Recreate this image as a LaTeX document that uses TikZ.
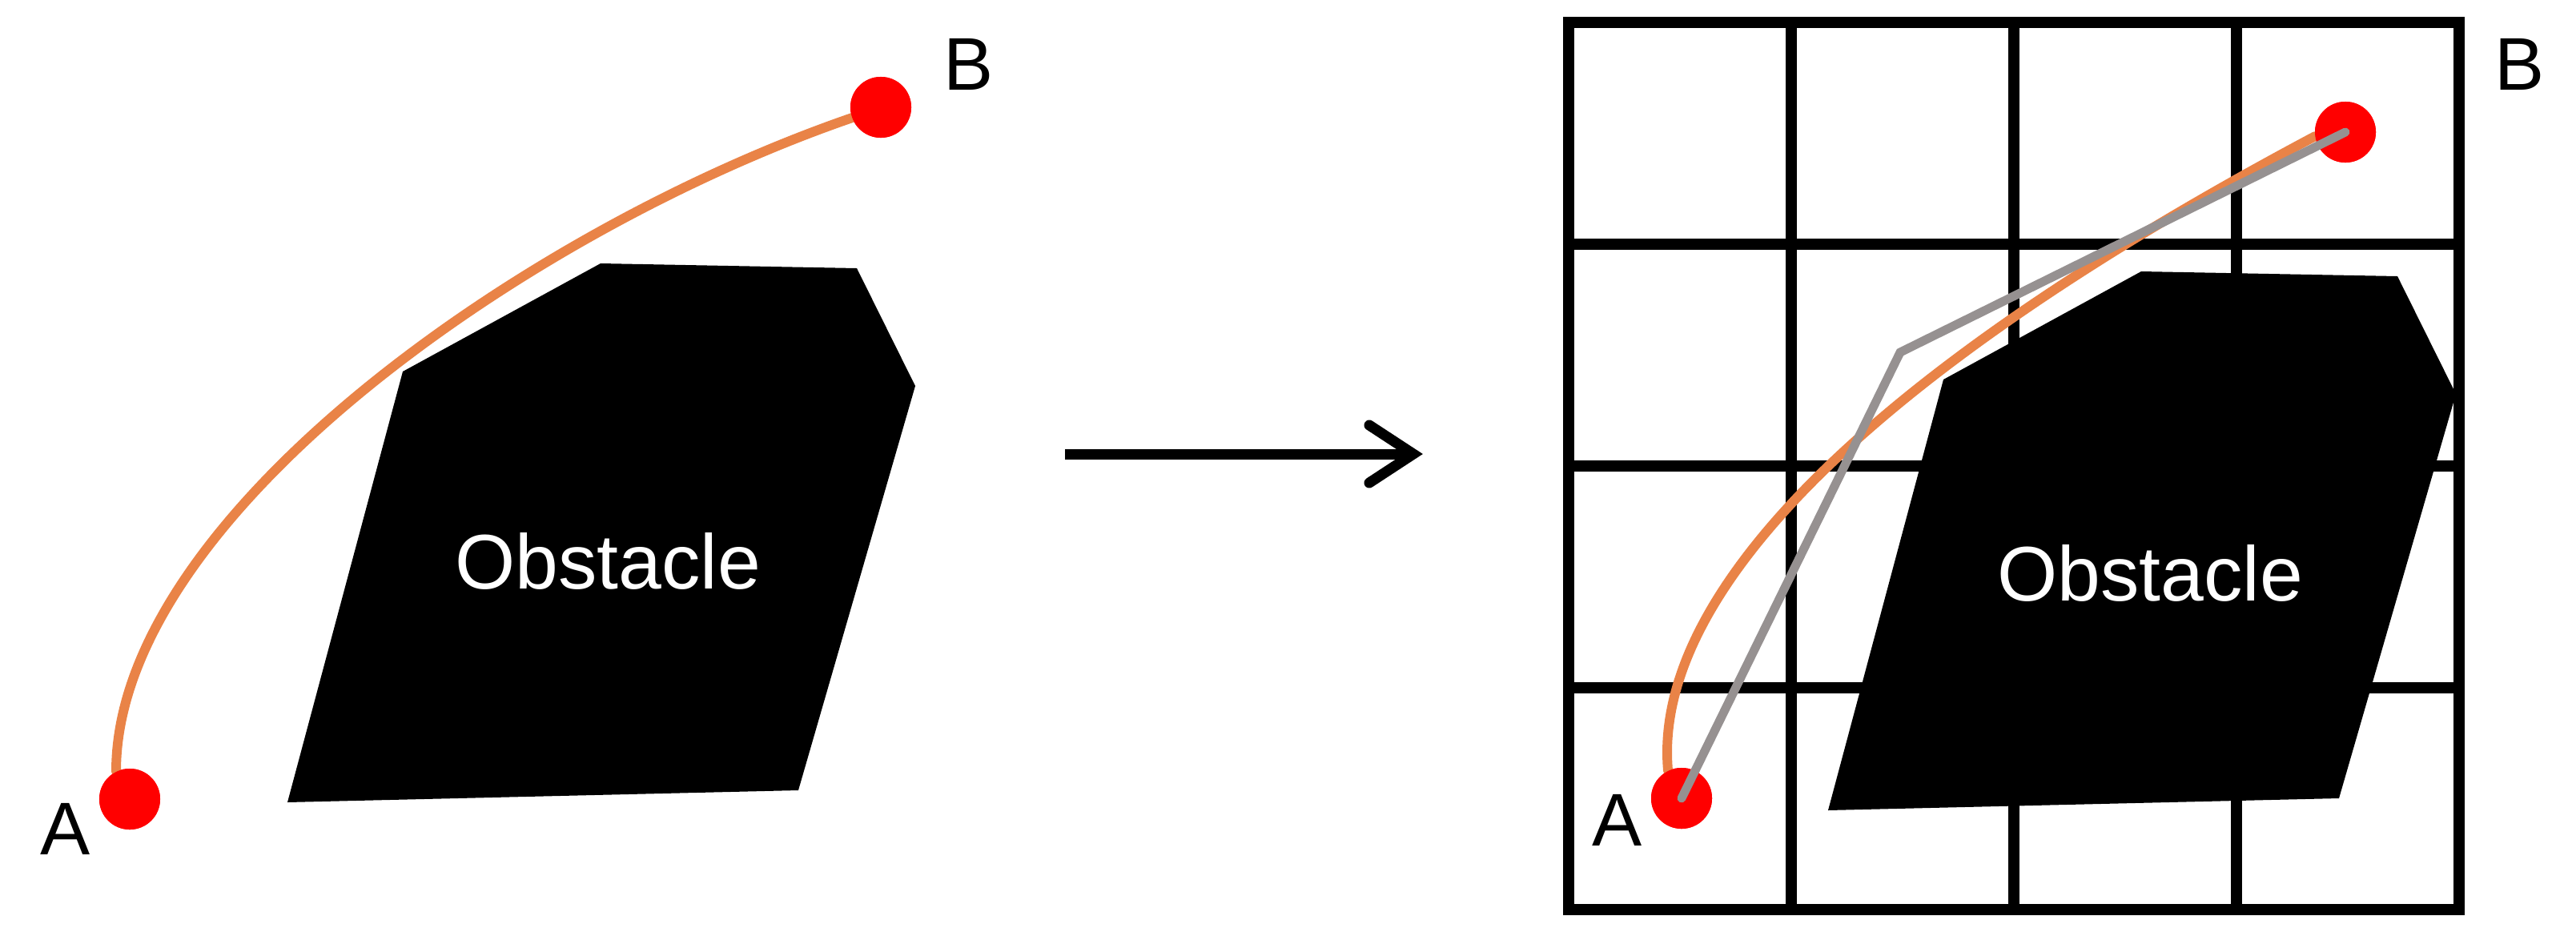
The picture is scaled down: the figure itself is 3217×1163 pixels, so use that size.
\documentclass[tikz,border=0pt]{standalone}
\usepackage{fontspec}
\setmainfont{Liberation Sans}
\definecolor{pathorange}{RGB}{233,131,71}
\definecolor{pathgray}{RGB}{150,145,145}
\definecolor{dotred}{RGB}{255,0,0}
\begin{document}
\begin{tikzpicture}[x=0.01cm,y=-0.01cm,
  obst/.style={fill=black},
  gridline/.style={draw=black,line width=3.85pt},
  orangepath/.style={draw=pathorange,line width=3.4pt,line cap=round},
  graypath/.style={draw=pathgray,line width=3.1pt,line cap=round,line join=miter},
  dotnode/.style={circle,fill=dotred,minimum size=0.76cm,inner sep=0pt},
  lbl/.style={font=\fontsize{26.5}{30}\selectfont,inner sep=0pt,text=black},
  obstlabel/.style={font=\fontsize{27.5}{30}\selectfont,inner sep=0pt,text=white},
  arrowline/.style={draw=black,line width=3.7pt}]
\useasboundingbox[fill=white] (0,0) rectangle (3217,1163);

% ---------- left panel ----------
\fill[obst] (750,329) -- (1070,335) -- (1143,482) -- (997,987) -- (359,1002) -- (503,464) -- cycle;
\node[obstlabel] (obstL) at (759,701) {Obstacle};
\node[dotnode] (A1) at (162,998) {};
\node[dotnode] (B1) at (1100,134) {};
\draw[orangepath] (A1.116) .. controls (145,650) and (650,290) .. (B1.200);
\node[dotnode] at (A1) {};
\node[dotnode] at (B1) {};
\node[lbl] (labA1) at (82,1035) {A};
\node[lbl] (labB1) at (1210,80) {B};

% ---------- arrow ----------
\coordinate (arrS) at (1330,567);
\coordinate (arrE) at (1765,567);
\draw[arrowline] (arrS) -- (arrE);
\draw[arrowline,line cap=round,line join=miter] ([shift={(-55,-36)}]arrE) -- (arrE) -- ([shift={(-55,36)}]arrE);

% ---------- right panel ----------
\foreach \x in {2237,2515,2793} \draw[gridline] (\x,28) -- (\x,1136);
\foreach \y in {305,582,859} \draw[gridline] (1959,\y) -- (3071,\y);
\draw[gridline] (1959,28) rectangle (3071,1136);
\fill[obst] (2674,339) -- (2994,345) -- (3067,492) -- (2921,997) -- (2283,1012) -- (2427,474) -- cycle;
\node[obstlabel] (obstR) at (2685,716) {Obstacle};
\node[dotnode] (A2) at (2100,997) {};
\node[dotnode] (B2) at (2929,165) {};
\draw[orangepath] (A2.116) .. controls (2065,760) and (2290,490) .. (B2.188);
\node[dotnode] at (A2) {};
\node[dotnode] at (B2) {};
\coordinate (turn) at (2373,440);
\draw[graypath] (A2.center) -- (turn) -- (B2.center);
\node[lbl] (labA2) at (2020,1024) {A};
\node[lbl] (labB2) at (3147,80) {B};
\end{tikzpicture}
\end{document}
